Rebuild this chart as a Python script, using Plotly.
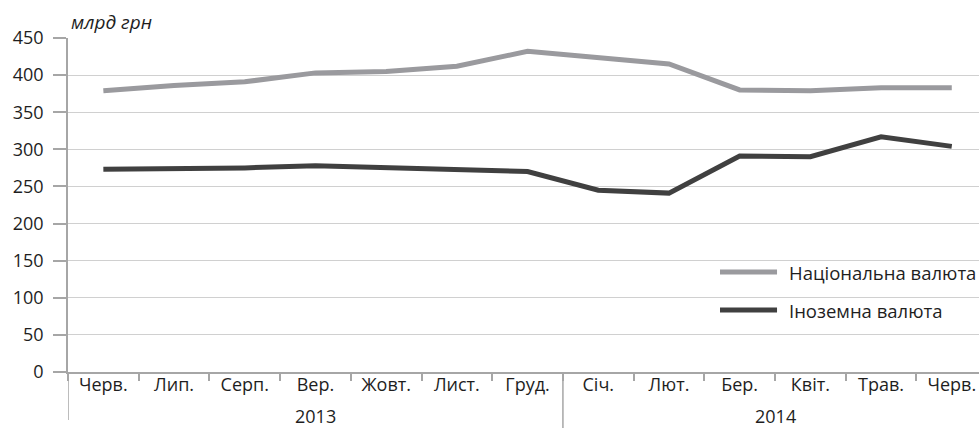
import plotly.graph_objects as go

years = ["2013", "2014"]
year_counts = [7, 6]
months = ["Черв.", "Лип.", "Серп.", "Вер.", "Жовт.", "Лист.", "Груд.",
          "Січ.", "Лют.", "Бер.", "Квіт.", "Трав.", "Черв."]
national = [379, 386, 391, 403, 405, 412, 432, 423, 415, 380, 379, 383, 383]
foreign = [273, 274, 275, 278, 275, 273, 270, 245, 241, 291, 290, 317, 304]
series_names = ["Національна валюта", "Іноземна валюта"]
series_colors = ["#9a9a9e", "#404040"]
y_ticks = [0, 50, 100, 150, 200, 250, 300, 350, 400, 450]

FONT = "Open Sans"
TXT = "#1e1e1e"
AX = "#a6a6a6"

xs = list(range(len(months)))

fig = go.Figure()
for name, vals, col in zip(series_names, [national, foreign], series_colors):
    fig.add_trace(go.Scatter(x=xs, y=vals, mode="lines", name=name,
                             showlegend=False,
                             line=dict(color=col, width=5)))

shapes = []
annotations = []
# year group labels and dividers
start = 0
for i, (yr, cnt) in enumerate(zip(years, year_counts)):
    center = start + (cnt - 1) / 2
    annotations.append(dict(text=yr, x=center, xref="x", y=0, yref="paper",
                            yshift=-44, xanchor="center", yanchor="middle",
                            showarrow=False, font=dict(size=18, family=FONT, color=TXT)))
    shapes.append(dict(type="line", xref="x", yref="paper",
                       x0=start - 0.5, x1=start - 0.5, y0=0,
                       y1=-0.144 if i == 0 else -0.17,
                       line=dict(color=AX, width=1.5)))
    start += cnt

# manual legend
leg_y = [0.2994, 0.1856]
for name, col, ly in zip(series_names, series_colors, leg_y):
    shapes.append(dict(type="line", xref="paper", yref="paper",
                       x0=0.7157, x1=0.7783, y0=ly, y1=ly,
                       line=dict(color=col, width=5)))
    annotations.append(dict(text=name, xref="paper", yref="paper", x=0.789, y=ly,
                            xanchor="left", yanchor="middle", showarrow=False,
                            font=dict(size=18.5, family=FONT, color=TXT)))

annotations.append(dict(text="<i>млрд грн</i>", xref="paper", yref="paper",
                        x=0, y=1, xanchor="left", yanchor="middle",
                        xshift=1, yshift=16, showarrow=False,
                        font=dict(size=19, family=FONT, color=TXT)))

fig.update_layout(
    width=979, height=428,
    margin=dict(l=68, r=0, t=38, b=56),
    paper_bgcolor="white", plot_bgcolor="white",
    font=dict(family=FONT, size=18, color=TXT),
    showlegend=False,
    xaxis=dict(range=[-0.5, 12.385], tickvals=xs, ticktext=months,
               showline=True, linecolor=AX, linewidth=1.5, ticks="",
               showgrid=False, zeroline=False, automargin=False,
               ticklabelstandoff=-4,
               minor=dict(tick0=-0.5, dtick=1, ticks="outside", ticklen=7,
                          tickcolor=AX, tickwidth=1.5, showgrid=False),
               tickfont=dict(size=18, family=FONT, color=TXT)),
    yaxis=dict(range=[0, 450], tickvals=y_ticks, showline=True,
               linecolor=AX, linewidth=1.5, ticks="outside",
               ticklen=13, tickcolor=AX, tickwidth=1.5, gridcolor="#d0d0d0",
               gridwidth=1.2, zeroline=False, automargin=False,
               ticklabelstandoff=6,
               tickfont=dict(size=18, family=FONT, color=TXT)),
    shapes=shapes,
    annotations=annotations,
)

fig.write_html("out.html",
               config={"displayModeBar": False},
               post_script="document.body.style.margin='0';"
                           "document.body.style.overflow='hidden';")
